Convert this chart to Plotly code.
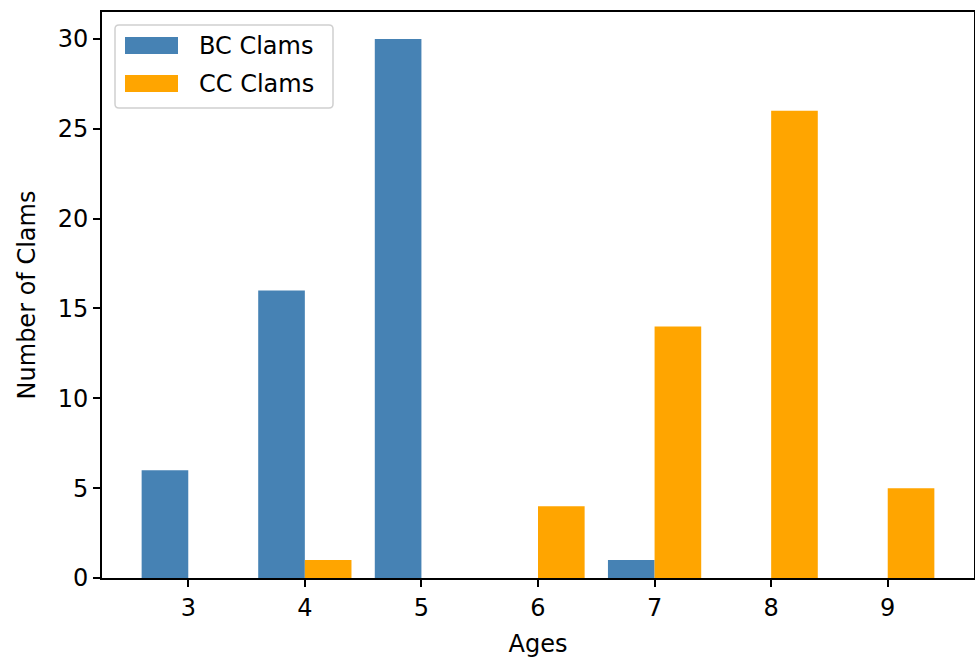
import plotly.graph_objects as go

ages = [3, 4, 5, 6, 7, 8, 9]
bc_clams = [6, 16, 30, 0, 1, 0, 0]
cc_clams = [0, 1, 0, 4, 14, 26, 5]
series_names = ["BC Clams", "CC Clams"]
colors = ["#4682B4", "#FFA500"]

FONT = "DejaVu Sans"
FS = 24
W, H = 975, 658
L, R, T, B = 102, 974, 12, 578

def px(x):
    return (x - L) / (R - L)

def py(y):
    return (B - y) / (B - T)

def rounded_rect(x0, y0, x1, y1, r):
    def P(x, y):
        return f"{px(x):.5f},{py(y):.5f}"
    return (f"M {P(x0 + r, y0)} L {P(x1 - r, y0)} Q {P(x1, y0)} {P(x1, y0 + r)} "
            f"L {P(x1, y1 - r)} Q {P(x1, y1)} {P(x1 - r, y1)} "
            f"L {P(x0 + r, y1)} Q {P(x0, y1)} {P(x0, y1 - r)} "
            f"L {P(x0, y0 + r)} Q {P(x0, y0)} {P(x0 + r, y0)} Z")

fig = go.Figure()
fig.add_trace(go.Bar(x=ages, y=bc_clams, width=0.4, offset=-0.4, name=series_names[0],
                     marker=dict(color=colors[0], line=dict(width=0))))
fig.add_trace(go.Bar(x=ages, y=cc_clams, width=0.4, offset=0.0, name=series_names[1],
                     marker=dict(color=colors[1], line=dict(width=0))))

shapes = [
    dict(type="path", xref="paper", yref="paper", path=rounded_rect(115, 25, 333, 108, 4),
         line=dict(color="#d0d0d0", width=1.5), fillcolor="rgba(255,255,255,0.8)", layer="above"),
    dict(type="rect", xref="paper", yref="paper", x0=px(125), x1=px(178), y0=py(54), y1=py(37),
         line=dict(width=0), fillcolor=colors[0], layer="above"),
    dict(type="rect", xref="paper", yref="paper", x0=px(125), x1=px(178), y0=py(92), y1=py(75),
         line=dict(width=0), fillcolor=colors[1], layer="above"),
]
annotations = [
    dict(xref="paper", yref="paper", x=px(197), y=py(46), text=series_names[0], showarrow=False,
         xanchor="left", yanchor="middle", font=dict(family=FONT, size=FS, color="black")),
    dict(xref="paper", yref="paper", x=px(197), y=py(84), text=series_names[1], showarrow=False,
         xanchor="left", yanchor="middle", font=dict(family=FONT, size=FS, color="black")),
]

fig.update_layout(
    width=W, height=H,
    margin=dict(l=L, r=W - R, t=T, b=H - B, pad=0),
    plot_bgcolor="white", paper_bgcolor="white",
    barmode="overlay",
    showlegend=False,
    font=dict(family=FONT, size=FS, color="black"),
    shapes=shapes,
    annotations=annotations,
    xaxis=dict(range=[2.26, 9.74], tickvals=ages, ticks="outside", ticklen=7, tickwidth=1.6,
               tickcolor="black", showline=True, linecolor="black", linewidth=1.6, mirror=True,
               showgrid=False, zeroline=False, automargin=False,
               title=dict(text="Ages", font=dict(family=FONT, size=FS), standoff=15)),
    yaxis=dict(range=[0, 31.5], tickvals=[0, 5, 10, 15, 20, 25, 30], ticks="outside", ticklen=7,
               tickwidth=1.6, tickcolor="black", showline=True, linecolor="black", linewidth=1.6,
               mirror=True, showgrid=False, zeroline=False, automargin=False,
               title=dict(text="Number of Clams", font=dict(family=FONT, size=FS), standoff=15)),
)

fig.write_html("out.html", config={"displayModeBar": False},
               post_script="document.body.style.margin='0';document.body.style.overflow='hidden';")
